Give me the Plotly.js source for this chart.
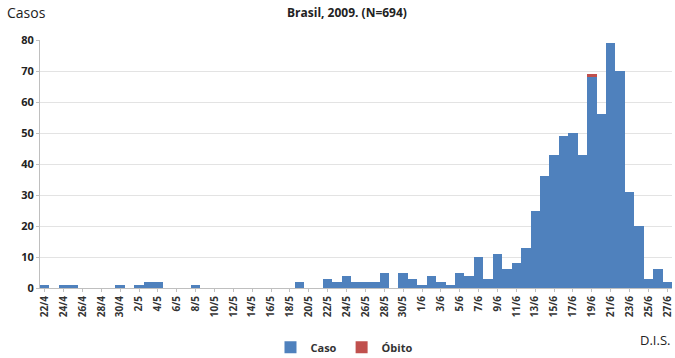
<!DOCTYPE html>
<html>
<head>
<meta charset="utf-8">
<script src="https://cdn.plot.ly/plotly-3.0.1.min.js"></script>
<style>html,body{margin:0;padding:0;background:#fff;}#chart{width:675px;height:358px;}</style>
</head>
<body>
<div id="chart"></div>
<script>
const dates = ["22/4","23/4","24/4","25/4","26/4","27/4","28/4","29/4","30/4",
"1/5","2/5","3/5","4/5","5/5","6/5","7/5","8/5","9/5","10/5","11/5","12/5","13/5","14/5","15/5","16/5","17/5","18/5","19/5","20/5","21/5","22/5","23/5","24/5","25/5","26/5","27/5","28/5","29/5","30/5","31/5",
"1/6","2/6","3/6","4/6","5/6","6/6","7/6","8/6","9/6","10/6","11/6","12/6","13/6","14/6","15/6","16/6","17/6","18/6","19/6","20/6","21/6","22/6","23/6","24/6","25/6","26/6","27/6"];
const casos = [1,0,1,1,0,0,0,0,1,
0,1,2,2,0,0,0,1,0,0,0,0,0,0,0,0,0,0,2,0,0,3,2,4,2,2,2,5,0,5,3,
1,4,2,1,5,4,10,3,11,6,8,13,25,36,43,49,50,43,68,56,79,70,31,20,3,6,2];
const obitos = dates.map(d => d === "19/6" ? 1 : 0);
const tickLabels = dates.filter((d, i) => i % 2 === 0);
const yTicks = [0,10,20,30,40,50,60,70,80];

const fontFam = "Open Sans, Liberation Sans, Arial, sans-serif";
const data = [
  {type:'bar', name:'Caso', x:dates, y:casos, marker:{color:'#4f81bd'}},
  {type:'bar', name:'Óbito', x:dates, y:obitos, marker:{color:'#c0504d'}}
];
const layout = {
  width:675, height:358,
  margin:{l:40, r:3, t:40, b:70},
  barmode:'stack', bargap:0,
  paper_bgcolor:'#fff', plot_bgcolor:'#fff',
  font:{family:fontFam, color:'#222'},
  showlegend:true,
  legend:{orientation:'h', x:0.481, xanchor:'center', yref:'container', y:0.03, yanchor:'middle',
    font:{size:11, color:'#333', weight:'bold'}, traceorder:'normal', itemwidth:30},
  xaxis:{type:'category', categoryorder:'array', categoryarray:dates, automargin:false,
    tickvals:tickLabels, ticktext:tickLabels, tickangle:-90,
    tickfont:{size:10, color:'#333', weight:'bold'},
    showline:true, linecolor:'#bfbfbf', ticks:'outside', ticklen:3, tickcolor:'#bfbfbf',
    showgrid:false, fixedrange:true},
  yaxis:{range:[0,80], tickvals:yTicks, automargin:false, tickfont:{size:11, color:'#222', weight:'bold'},
    showline:true, linecolor:'#bfbfbf', ticks:'outside', ticklen:3, tickcolor:'#bfbfbf',
    gridcolor:'#e3e3e3', zeroline:false},
  annotations:[
    {text:'Casos', xref:'paper', yref:'paper', x:-0.055, y:1.11, xanchor:'left', yanchor:'middle', showarrow:false, font:{size:14, color:'#222'}},
    {text:'D.I.S.', xref:'paper', yref:'paper', x:1.0, y:-0.21, xanchor:'right', yanchor:'middle', showarrow:false, font:{size:13, color:'#222'}},
    {text:'<b>Brasil, 2009. (N=694)</b>', xref:'paper', yref:'paper', x:0.485, y:1.112, xanchor:'center', yanchor:'middle', showarrow:false, font:{size:12, color:'#222'}}
  ]
};
Plotly.newPlot('chart', data, layout, {displayModeBar:false, staticPlot:true});
</script>
</body>
</html>
